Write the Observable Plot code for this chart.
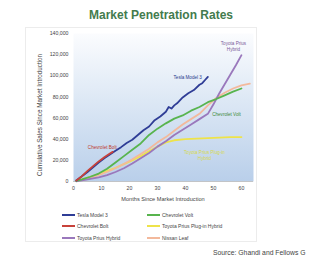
<!DOCTYPE html>
<html><head><meta charset="utf-8">
<script src="https://cdn.jsdelivr.net/npm/d3@7"></script>
<script src="https://cdn.jsdelivr.net/npm/@observablehq/plot@0.6"></script>
<style>
body{margin:0;width:322px;height:259px;background:#fff;font-family:"Liberation Sans",Arial,sans-serif;position:relative;overflow:hidden}
.abs{position:absolute;white-space:nowrap}
#title{left:0;width:322px;top:8px;text-align:center;font-size:12px;font-weight:bold;color:#437b4d}
#frameBox{left:25px;top:27px;width:230px;height:213px;border:1px solid #ececec}
#ytitle{left:39px;top:115px;transform:translate(-50%,-50%) rotate(-90deg);font-size:6.3px;color:#444}
#xtitle{left:163px;top:199px;transform:translate(-50%,-50%);font-size:5.6px;color:#444}
.leg{font-size:5px;color:#444;display:flex;align-items:center}
.sw{display:inline-block;width:13px;height:2px;margin-right:2px}
#source{left:213px;top:249px;font-size:6.8px;color:#444}
</style></head>
<body>
<div id="frameBox" class="abs"></div>
<div id="title" class="abs">Market Penetration Rates</div>
<div id="chart" class="abs" style="left:0;top:28px"></div>
<div id="ytitle" class="abs">Cumulative Sales Since Market Introduction</div>
<div id="xtitle" class="abs">Months Since Market Introduction</div>
<div id="legend"></div>
<div id="source" class="abs">Source: Ghandi and Fellows G</div>
<script>
// Data
const seriesNames = ["Tesla Model 3","Chevrolet Volt","Chevrolet Bolt","Toyota Prius Plug-in Hybrid","Toyota Prius Hybrid","Nissan Leaf"];
const seriesColors = ["#2f3d96","#58b44e","#c8423a","#eee34a","#9a78bc","#f3b99c"];

const teslaMonths = [1,3,5,7,9,11,13,15,17,19,21,23,25,27,29,31,33,34,35,36,37,39,41,43,45,46,47,48];
const teslaSales  = [1000,5000,9000,13500,18000,22000,25500,29000,32500,36500,39500,44000,48500,52000,58000,61500,66000,70500,69000,72000,74000,79500,83500,86500,91500,93000,96000,99000];

const voltMonths = [1,3,6,9,12,15,18,21,24,27,30,33,36,39,42,45,48,51,54,57,60];
const voltSales  = [500,2000,4500,7500,12000,18000,24000,30000,36000,44000,50000,55000,59500,62500,67000,70500,75000,78000,81500,85000,88000];

const boltMonths = [1,3,5,7,9,11,13,14];
const boltSales  = [1000,5000,10000,14500,19000,23000,26500,28000];

const priusPlugMonths = [1,3,6,9,12,15,18,21,24,27,30,33,36,40,44,48,52,56,60];
const priusPlugSales  = [500,2000,4500,7000,10000,13000,16500,20000,24000,28500,33000,37000,39000,40000,40500,41000,41500,42000,42000];

const priusMonths = [1,3,6,9,12,15,18,21,24,27,30,33,36,39,42,45,48,50,52,54,56,58,60];
const priusSales  = [200,1000,2500,4000,6000,9000,12500,17000,22000,27000,33000,38000,44000,49000,54000,59000,64000,73000,83000,92000,101000,110000,119500];

const leafMonths = [1,3,6,9,12,15,18,21,24,27,30,33,36,39,42,45,48,51,54,57,60,63];
const leafSales  = [300,1500,3500,6000,9000,12500,16500,21000,26000,31000,37000,42000,48000,54000,59000,64000,72000,79000,84000,88000,91000,92500];

const xTicks = [0,10,20,30,40,50,60];
const yTicks = [0,20000,40000,60000,80000,100000,120000,140000];

const monthsList = [teslaMonths,voltMonths,boltMonths,priusPlugMonths,priusMonths,leafMonths];
const salesList  = [teslaSales,voltSales,boltSales,priusPlugSales,priusSales,leafSales];

const rows = [];
seriesNames.forEach((s,i)=>monthsList[i].forEach((m,j)=>rows.push({series:s,month:m,sales:salesList[i][j]})));
const lastOf = s => { const r = rows.filter(d=>d.series===s); return [r[r.length-1]]; };

const drawOrder = ["Toyota Prius Plug-in Hybrid","Nissan Leaf","Toyota Prius Hybrid","Chevrolet Volt","Tesla Model 3","Chevrolet Bolt"];
const col = s => seriesColors[seriesNames.indexOf(s)];

const lineMarks = drawOrder.map(s => Plot.line(rows.filter(d=>d.series===s), {x:"month", y:"sales", stroke: col(s), strokeWidth: 1.8, curve:"linear"}));

const lbl = (s, text, color, opts) => Plot.text(lastOf(s), {x:"month", y:"sales", text:()=>text, fill:color, fontSize:4.6, lineHeight:1.2, ...opts});

const plot = Plot.plot({
  width: 322, height: 178,
  marginTop: 5, marginBottom: 25, marginLeft: 73, marginRight: 69,
  style: {fontFamily: "Liberation Sans, Arial, sans-serif", background: "transparent"},
  x: {domain:[0,64.3], ticks: xTicks, tickSize: 0, tickPadding: 5, label: null, tickFormat: d=>d},
  y: {domain:[0,140000], ticks: yTicks, tickSize: 0, tickPadding: 5, label: null, tickFormat: d3.format(",")},
  marks: [
    Plot.frame({fill:"url(#bgGrad)", stroke:"none"}),
    Plot.ruleY([0], {stroke:"#bbb", strokeWidth:0.8}),
    ...lineMarks,
    lbl("Tesla Model 3", "Tesla Model 3", "#2a3a8c", {textAnchor:"end", dx:-6, dy:0}),
    lbl("Toyota Prius Hybrid", "Toyota Prius\nHybrid", "#7a5a9a", {textAnchor:"middle", dx:-8, dy:-9}),
    lbl("Chevrolet Volt", "Chevrolet Volt", "#3d8a3a", {textAnchor:"middle", dx:-15, dy:26}),
    lbl("Chevrolet Bolt", "Chevrolet Bolt", "#c0392b", {textAnchor:"end", dx:4, dy:-5}),
    lbl("Toyota Prius Plug-in Hybrid", "Toyota Prius Plug-in\nHybrid", "#d8d84a", {textAnchor:"middle", dx:-37, dy:18})
  ]
});
plot.querySelectorAll("g[aria-label*='axis']").forEach(g=>{g.setAttribute("font-size","5.2"); g.setAttribute("fill","#444");});
const ns = "http://www.w3.org/2000/svg";
const defs = document.createElementNS(ns,"defs");
defs.innerHTML = '<linearGradient id="bgGrad" x1="0" y1="0" x2="0" y2="1"><stop offset="0" stop-color="#fbfcfe"/><stop offset="0.45" stop-color="#dde8f5"/><stop offset="1" stop-color="#b9cfea"/></linearGradient>';
plot.insertBefore(defs, plot.firstChild);
document.getElementById("chart").appendChild(plot);

// Legend
const legendPos = [
  ["Tesla Model 3",62,215],["Chevrolet Bolt",62,226.5],["Toyota Prius Hybrid",62,238],
  ["Chevrolet Volt",147,215],["Toyota Prius Plug-in Hybrid",147,226.5],["Nissan Leaf",147,238]
];
const leg = document.getElementById("legend");
legendPos.forEach(([s,x,y])=>{
  const d = document.createElement("div");
  d.className = "abs leg";
  d.style.left = x+"px"; d.style.top = (y-3.5)+"px";
  d.innerHTML = `<span class="sw" style="background:${col(s)}"></span>${s}`;
  leg.appendChild(d);
});
</script>
</body></html>
